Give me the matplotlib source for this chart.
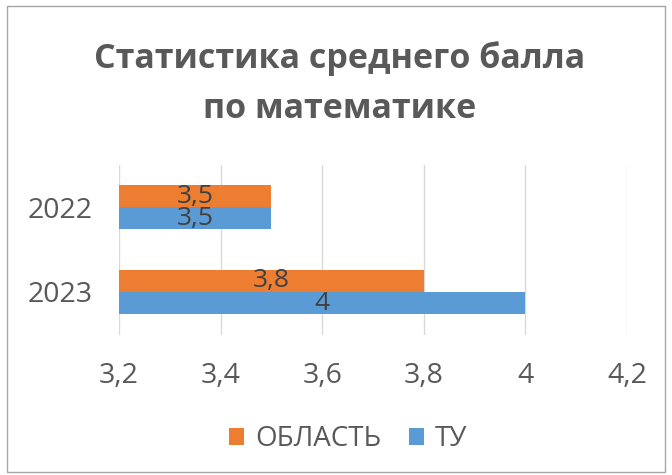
import matplotlib
matplotlib.use("Agg")
import matplotlib.pyplot as plt
import numpy as np
from matplotlib.patches import Rectangle

years = ["2022", "2023"]
oblast = [3.5, 3.8]
tu = [3.5, 4.0]
ticks = [3.2, 3.4, 3.6, 3.8, 4.0, 4.2]

plt.rcParams['font.family'] = ['Open Sans', 'DejaVu Sans']
txt = '#595959'
orange = '#ED7D31'
blue = '#5B9BD5'


def fmt(v):
    s = ('%g' % v).replace('.', ',')
    return s


fig = plt.figure(figsize=(6.72, 4.75), dpi=100)
ax = fig.add_axes([119 / 672, 1 - 334.5 / 475, (627 - 119) / 672, 170 / 475])

y = np.arange(len(years))
h = 22 / 85
b1 = ax.barh(y - h / 2, np.array(oblast) - 3.2, left=3.2, height=h, color=orange, label='ОБЛАСТЬ')
b2 = ax.barh(y + h / 2, np.array(tu) - 3.2, left=3.2, height=h, color=blue, label='ТУ')

for bars, vals in ((b1, oblast), (b2, tu)):
    for r, v in zip(bars, vals):
        ax.text(r.get_x() + r.get_width() / 2, r.get_y() + r.get_height() / 2, fmt(v),
                ha='center', va='center', fontsize=19, color='#404040')

ax.set_xlim(3.2, 4.2)
ax.set_ylim(1.5, -0.5)
ax.set_xticks(ticks)
ax.set_xticklabels([fmt(t) for t in ticks], fontsize=20.5, color=txt)
ax.set_yticks(y)
ax.set_yticklabels(years, fontsize=20.5, color=txt)
ax.tick_params(length=0)
ax.tick_params(axis='y', pad=19)
ax.tick_params(axis='x', pad=20)
ax.grid(axis='x', color='#D9D9D9', linewidth=1)
ax.set_axisbelow(True)
for s in ax.spines.values():
    s.set_visible(False)

fig.text(0.506, 1 - 59 / 475, 'Статистика среднего балла', ha='center', va='center',
         fontsize=24.5, fontweight='bold', color=txt)
fig.text(0.506, 1 - 109 / 475, 'по математике', ha='center', va='center',
         fontsize=24.5, fontweight='bold', color=txt)

fig.legend(handles=[b1, b2], loc='center', bbox_to_anchor=(0.518, 1 - 439 / 475), ncol=2,
           frameon=False, fontsize=20, labelcolor=txt, handlelength=0.55, handleheight=0.55,
           handletextpad=0.4, columnspacing=1.0)

fig.patches.append(Rectangle((7 / 672, 3 / 475), 658 / 672, 466 / 475, transform=fig.transFigure,
                             fill=False, edgecolor='#A6A6A6', linewidth=1))

fig.savefig('out.png', dpi=100)
